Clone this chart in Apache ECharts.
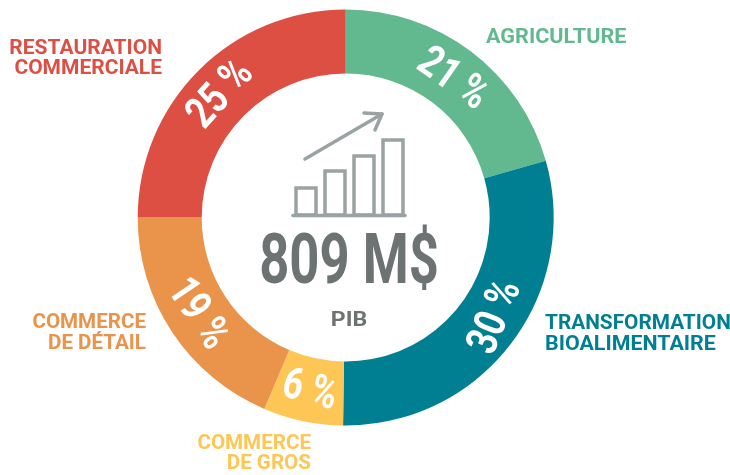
<!DOCTYPE html>
<html>
<head>
<meta charset="utf-8">
<style>
html,body{margin:0;padding:0;background:#fff;}
#chart{width:730px;height:475px;}
</style>
<script src="https://cdn.jsdelivr.net/npm/echarts@6/dist/echarts.min.js"></script>
</head>
<body>
<div id="chart"></div>
<script>
// secteurs dans le sens horaire depuis midi
var sectors = ['AGRICULTURE', 'TRANSFORMATION BIOALIMENTAIRE', 'COMMERCE DE GROS', 'COMMERCE DE DÉTAIL', 'RESTAURATION COMMERCIALE'];
// taille des arcs (les pourcentages imprimés font 101)
var arcSizes = [20.6, 29.6, 6.2, 18.6, 25];
var percents = ['21 %', '30 %', '6 %', '19 %', '25 %'];
var colors = ['#62b98f', '#007f92', '#fec655', '#e9934b', '#dd4f43'];
var totalText = '809 M$';
var totalName = 'PIB';

var iconColor = '#9aa3a3';
var textFont = 'Roboto, sans-serif';
var cx = 345.7, cy = 217.5, rIn = 144, rOut = 208;

var chart = echarts.init(document.getElementById('chart'));

function sideLabel(text, x, y, align, color, sx) {
    return {
        type: 'text', x: x, y: y, scaleX: sx, silent: true,
        style: {text: text, fill: color, font: 'bold 20px ' + textFont, textAlign: align, textVerticalAlign: 'middle'}
    };
}
function iconBar(x, top) {
    return {
        type: 'rect', silent: true,
        shape: {x: x, y: top, width: 20, height: 215 - top},
        style: {fill: 'none', stroke: iconColor, lineWidth: 3.5}
    };
}
function iconLine(points) {
    return {
        type: 'polyline', silent: true,
        shape: {points: points},
        style: {fill: 'none', stroke: iconColor, lineWidth: 3.5, lineCap: 'round', lineJoin: 'round'}
    };
}
// pourcentages posés au milieu de chaque arc, étroits et tournés
function percentLabels() {
    var angles = [-35, 68, -15, -56, 48];
    var nudgeX = [0, 11, 0, -2, 0];
    var nudgeY = [3, -7, 2, 0, 2];
    var total = arcSizes.reduce(function (a, b) { return a + b; }, 0);
    var sum = 0;
    return arcSizes.map(function (v, i) {
        var mid = (sum + v / 2) / total * Math.PI * 2;
        sum += v;
        var r = (rIn + rOut) / 2;
        return {
            type: 'text', silent: true, z: 10,
            x: cx + r * Math.sin(mid) + nudgeX[i],
            y: cy - r * Math.cos(mid) + nudgeY[i],
            rotation: angles[i] * Math.PI / 180,
            scaleX: 0.8,
            style: {text: percents[i], fill: '#fff', font: 'bold 44px ' + textFont, textAlign: 'center', textVerticalAlign: 'middle'}
        };
    });
}

chart.setOption({
    animation: false,
    color: colors,
    series: [{
        type: 'pie',
        center: [cx, cy],
        radius: [rIn, rOut],
        startAngle: 90,
        silent: true,
        label: {show: false},
        labelLine: {show: false},
        data: arcSizes.map(function (v, i) {
            return {value: v, name: sectors[i]};
        })
    }],
    graphic: [
        sideLabel('AGRICULTURE', 486, 38, 'left', colors[0], 1.08),
        sideLabel('TRANSFORMATION', 545, 324, 'left', colors[1], 1.04),
        sideLabel('BIOALIMENTAIRE', 545, 345, 'left', colors[1], 1.07),
        sideLabel('COMMERCE', 311, 444, 'right', colors[2], 1.03),
        sideLabel('DE GROS', 311, 464, 'right', colors[2], 1.03),
        sideLabel('COMMERCE', 146, 323, 'right', colors[3], 1.03),
        sideLabel('DE DÉTAIL', 146, 344, 'right', colors[3], 1.03),
        sideLabel('RESTAURATION', 162, 49, 'right', colors[4], 1.05),
        sideLabel('COMMERCIALE', 162, 69, 'right', colors[4], 1.05),
        // pictogramme central
        iconBar(296, 188),
        iconBar(325, 171),
        iconBar(354, 156),
        iconBar(383, 140),
        iconLine([[293, 215.5], [405, 215.5]]),
        iconLine([[305, 159], [382, 114]]),
        iconLine([[364, 113], [382, 114], [375, 130]]),
        {
            type: 'text', x: 349, y: 265, scaleX: 0.74, silent: true,
            style: {text: totalText, fill: '#6d7272', font: 'bold 71px ' + textFont, textAlign: 'center', textVerticalAlign: 'middle'}
        },
        {
            type: 'text', x: 349, y: 321, scaleX: 1.1, silent: true,
            style: {text: totalName, fill: '#6d7272', font: 'bold 21px ' + textFont, textAlign: 'center', textVerticalAlign: 'middle'}
        }
    ].concat(percentLabels())
});
</script>
</body>
</html>
